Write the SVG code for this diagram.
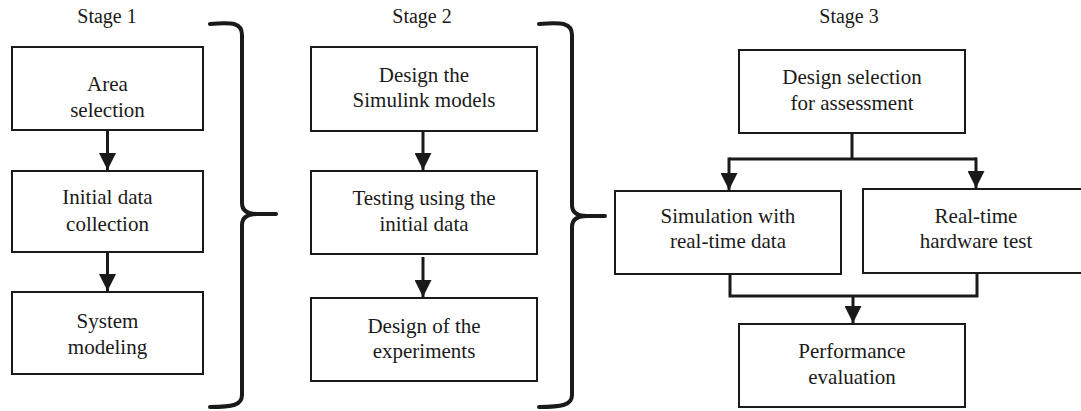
<svg xmlns="http://www.w3.org/2000/svg" width="1081" height="411" viewBox="0 0 1081 411">
  <style>
    .box { fill: #ffffff; stroke: #1a1a1a; stroke-width: 2; }
    .boxtext { font-family: "Liberation Serif", "Times New Roman", serif; font-size: 21px; fill: #1a1a1a; text-anchor: middle; }
    .stage { font-family: "Liberation Serif", "Times New Roman", serif; font-size: 20px; fill: #1a1a1a; text-anchor: middle; }
    .wire { fill: none; stroke: #1a1a1a; stroke-width: 3; }
    .brace { fill: none; stroke: #1a1a1a; stroke-width: 4; stroke-linecap: round; stroke-linejoin: round; }
  </style>
  <defs>
    <marker id="arrow" viewBox="0 0 18 17" refX="17" refY="8.5" markerWidth="18" markerHeight="17" markerUnits="userSpaceOnUse" orient="auto">
      <path d="M0,0 L17,8.5 L0,17 Z" fill="#1a1a1a"/>
    </marker>
  </defs>
  <rect width="1081" height="411" fill="#ffffff"/>

  <!-- stage headings -->
  <text class="stage" x="107" y="23">Stage 1</text>
  <text class="stage" x="422" y="23">Stage 2</text>
  <text class="stage" x="849" y="23">Stage 3</text>

  <!-- stage 1 -->
  <g id="area-selection" font-family="Liberation Serif, serif">
    <rect class="box" x="12" y="47" width="191" height="83"/>
    <text class="boxtext" x="107.5" y="91">Area</text>
    <text class="boxtext" x="107.5" y="117">selection</text>
  </g>
  <g id="initial-data-collection" font-family="Liberation Serif, serif">
    <rect class="box" x="12" y="171" width="191" height="81"/>
    <text class="boxtext" x="107.5" y="204">Initial data</text>
    <text class="boxtext" x="107.5" y="231">collection</text>
  </g>
  <g id="system-modeling" font-family="Liberation Serif, serif">
    <rect class="box" x="12" y="292" width="191" height="82"/>
    <text class="boxtext" x="107.5" y="328">System</text>
    <text class="boxtext" x="107.5" y="354">modeling</text>
  </g>

  <!-- stage 2 -->
  <g id="design-simulink" font-family="Liberation Serif, serif">
    <rect class="box" x="311" y="47" width="226" height="84"/>
    <text class="boxtext" x="424" y="82">Design the</text>
    <text class="boxtext" x="424" y="107">Simulink models</text>
  </g>
  <g id="testing-initial-data" font-family="Liberation Serif, serif">
    <rect class="box" x="311" y="171" width="226" height="83"/>
    <text class="boxtext" x="424" y="205">Testing using the</text>
    <text class="boxtext" x="424" y="231">initial data</text>
  </g>
  <g id="design-experiments" font-family="Liberation Serif, serif">
    <rect class="box" x="311" y="298" width="226" height="83"/>
    <text class="boxtext" x="424" y="333">Design of the</text>
    <text class="boxtext" x="424" y="358">experiments</text>
  </g>

  <!-- stage 3 -->
  <g id="design-selection" font-family="Liberation Serif, serif">
    <rect class="box" x="739" y="50" width="226" height="83"/>
    <text class="boxtext" x="852" y="84">Design selection</text>
    <text class="boxtext" x="852" y="110">for assessment</text>
  </g>
  <g id="simulation-real-time" font-family="Liberation Serif, serif">
    <rect class="box" x="615" y="191" width="226" height="83"/>
    <text class="boxtext" x="728" y="223">Simulation with</text>
    <text class="boxtext" x="728" y="248">real-time data</text>
  </g>
  <g id="hardware-test" font-family="Liberation Serif, serif">
    <rect class="box" x="863" y="189" width="224" height="84"/>
    <text class="boxtext" x="976" y="223">Real-time</text>
    <text class="boxtext" x="976" y="248">hardware test</text>
  </g>
  <g id="performance-evaluation" font-family="Liberation Serif, serif">
    <rect class="box" x="739" y="324" width="226" height="83"/>
    <text class="boxtext" x="852" y="358">Performance</text>
    <text class="boxtext" x="852" y="384">evaluation</text>
  </g>

  <!-- connectors -->
  <g id="connectors">
    <line class="wire" x1="107.5" y1="131" x2="107.5" y2="170" marker-end="url(#arrow)"/>
    <line class="wire" x1="107.5" y1="253" x2="107.5" y2="291" marker-end="url(#arrow)"/>
    <line class="wire" x1="423" y1="132" x2="423" y2="170" marker-end="url(#arrow)"/>
    <line class="wire" x1="423" y1="257" x2="423" y2="297" marker-end="url(#arrow)"/>
    <path class="wire" d="M852,133 V159 M729,159 H977"/>
    <line class="wire" x1="729" y1="157.5" x2="729" y2="190" marker-end="url(#arrow)"/>
    <line class="wire" x1="976" y1="157.5" x2="976" y2="188" marker-end="url(#arrow)"/>
    <path class="wire" d="M730,274 V296 H977 V273"/>
    <line class="wire" x1="853" y1="296" x2="853" y2="323" marker-end="url(#arrow)"/>
    <!-- braces grouping each stage -->
    <path class="brace" d="M210,24 C233,22 242,23 242,35 L242,203 C242,210 246,214 257,214 L276,214 M257,214 C246,214 242,218 242,225 L242,395 C242,405 233,407 210,407"/>
    <path class="brace" d="M539,24 C562,22 572,23 572,35 L572,205 C572,212 576,216 587,216 L605,216 M587,216 C576,216 572,220 572,227 L572,395 C572,405 562,407 539,407"/>
  </g>
</svg>
